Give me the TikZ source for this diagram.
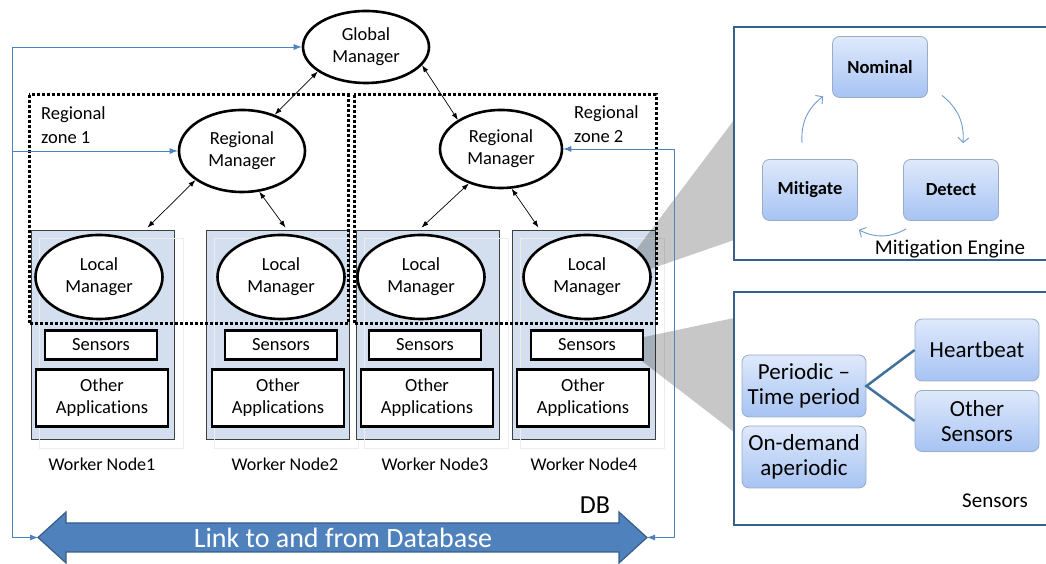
\documentclass[tikz,border=0pt]{standalone}
\usepackage{fontspec}
\setmainfont{Carlito}[Ligatures=CommonOff]
\usetikzlibrary{shapes.geometric,arrows.meta}
\definecolor{fmBoxBlue}{HTML}{D3DFEE}
\definecolor{fmLink}{HTML}{4F81BD}
\definecolor{fmLinkDark}{HTML}{385D8A}
\definecolor{fmFrame}{HTML}{3A5F8B}
\definecolor{fmCycleBlue}{HTML}{6F9BD1}
\definecolor{fmTop}{HTML}{DFE9FB}
\definecolor{fmBot}{HTML}{A6C3F3}
\definecolor{fmRim}{HTML}{98ACC8}
\definecolor{fmBranch}{HTML}{41719C}

\tikzset{fmMgr/.style={draw,ellipse,line width=2.6pt,fill=white,inner sep=0pt,align=center,font=\fontsize{18.5}{22}\selectfont},
 fmWorker/.style={draw=black!75,line width=0.8pt,fill=fmBoxBlue,minimum width=143pt,minimum height=209pt,inner sep=0pt},
 fmPart/.style={draw,line width=2.6pt,fill=white,inner sep=0pt,align=center,font=\fontsize{18.5}{22}\selectfont},
 fmZone/.style={line width=3pt,dash pattern=on 2.6pt off 2.4pt},
 fmText/.style={inner sep=0pt,align=left,font=\fontsize{18.5}{24}\selectfont},
 fmDuplex/.style={<->,>={Latex[length=7pt,width=5pt]},line width=0.7pt},
 fmLinkLine/.style={draw=fmLink,line width=0.9pt,>={Latex[length=8pt,width=6pt]}},
 fmState/.style={rounded corners=7pt,top color=fmTop,bottom color=fmBot,draw=fmRim,line width=0.8pt,
   minimum width=95pt,minimum height=61pt,font=\fontsize{18.5}{22}\selectfont\bfseries},
 fmSensor/.style={rounded corners=7pt,top color=fmTop,bottom color=fmBot,draw=fmRim,line width=0.8pt,
   minimum width=124pt,minimum height=62pt,inner sep=0pt,align=center,font=\fontsize{23}{25}\selectfont},
 fmCycle/.style={->,>={Straight Barb[length=5pt,width=11pt]},draw=fmCycleBlue,line width=0.9pt,bend left=28}}

\begin{document}
\begin{tikzpicture}[x=1pt,y=1pt]
\useasboundingbox (0,0) rectangle (1046,564);
\foreach \n/\wx in {1/102.5,2/277.5,3/427.5,4/583.5}{
\node[fmWorker] (w\n) at (\wx,229.5) {};
\draw[black!7,line width=0.8pt] ([shift={(9,-9)}]w\n.south west) rectangle ([shift={(9,-9)}]w\n.north east);}
\fill[black,fill opacity=0.22] (636,314) -- (734,444) -- (734,324) -- (636,290) -- cycle;
\fill[black,fill opacity=0.22] (630,224) -- (734,246) -- (734,132) -- (630,212) -- cycle;
\draw[fmZone] (29,469) rectangle (348,240);
\draw[fmZone] (354,469) rectangle (656,240);
\foreach \n/\lx/\sx/\ox/\tx in {1/99/101/102/102,2/281/281/278/285,3/421/425/427/435,4/587/587/583/584}{
\node[fmMgr,minimum width=127pt,minimum height=84pt] (lm\n) at (\lx,287) {Local\\Manager};
\node[fmPart,minimum width=112pt,minimum height=29pt] (sn\n) at (\sx,219) {Sensors};
\node[fmPart,minimum width=132pt,minimum height=57pt] (oa\n) at (\ox,166) {Other\\Applications};
\node[inner sep=0pt,font=\fontsize{18}{20}\selectfont] (wl\n) at (\tx,100) {Worker Node\n};}
\node[fmMgr,minimum width=126pt,minimum height=72pt] (gm) at (366,517) {Global\\Manager};
\node[fmMgr,minimum width=126pt,minimum height=82pt] (rm1) at (242,413) {Regional\\Manager};
\node[fmMgr,minimum width=122pt,minimum height=78pt] (rm2) at (501,415) {Regional\\Manager};
\node[fmText,anchor=north west] (z1) at (41,458) {Regional\\zone 1};
\node[fmText,anchor=north west] (z2) at (574,459) {Regional\\zone 2};
\draw[fmDuplex] (gm.207) -- (rm1.48);
\draw[fmDuplex] (gm.342) -- (rm2.146);
\draw[fmDuplex] (rm1.212) -- ([shift={(45,2)}]w1.north);
\draw[fmDuplex] (rm1.293) -- ([shift={(8,2)}]w2.north);
\draw[fmDuplex] (rm2.227) -- ([shift={(-6,2)}]w3.north);
\draw[fmDuplex] (rm2.285) -- ([shift={(-45,2)}]w4.north);
\coordinate (dbL) at (38,26.5);
\coordinate (dbR) at (647,26.5);
\coordinate (busL) at (12,413);
\draw[fill=fmLink,draw=fmLinkDark,line width=1.2pt] (dbL) -- (66,52) -- (66,41) -- (619,41) -- (619,52) -- (dbR)
 -- (619,1) -- (619,12) -- (66,12) -- (66,1) -- cycle;
\node[text=white,inner sep=0pt,font=\fontsize{28}{30}\selectfont] (dbtext) at (343,26) {Link to and from Database};
\node[inner sep=0pt,font=\fontsize{26}{28}\selectfont] (db) at (595,59) {DB};
\draw[fmLinkLine,<->] (gm.west) -| (12,26.5) -- (dbL);
\draw[fmLinkLine,->] (busL) -- (rm1.west);
\draw[fmLinkLine,<->] (rm2.east) -| (674,26.5) -- (dbR);
\draw[fmFrame,line width=2.6pt] (734,537) rectangle (1060,304);
\node[fmState] (nom) at (880,497) {Nominal};
\node[fmState] (mit) at (810,374) {Mitigate};
\node[fmState] (det) at (951,374) {Detect};
\draw[fmCycle] ([shift={(-8,16)}]mit.north) to ([shift={(-9,1.5)}]nom.south west);
\draw[fmCycle] ([shift={(14,2.5)}]nom.south east) to ([shift={(12,16)}]det.north);
\draw[fmCycle] ([shift={(3,-8)}]det.south west) to ([shift={(1,-9)}]mit.south east);
\node[inner sep=0pt,font=\fontsize{21}{24}\selectfont] (me) at (950,315) {Mitigation Engine};
\draw[fmFrame,line width=2.6pt] (734,272) rectangle (1060,39);
\node[fmSensor] (per) at (804,178) {Periodic –\\Time period};
\node[fmSensor] (ond) at (804,107) {On-demand\\aperiodic};
\node[fmSensor] (hb) at (977,214) {Heartbeat};
\node[fmSensor,minimum height=61pt] (os) at (977,143) {Other\\Sensors};
\draw[fmBranch,line width=2.5pt] (hb.west) -- (per.east) -- (os.west);
\node[inner sep=0pt,font=\fontsize{21}{24}\selectfont] (snlab) at (995,63) {Sensors};
\end{tikzpicture}
\end{document}
